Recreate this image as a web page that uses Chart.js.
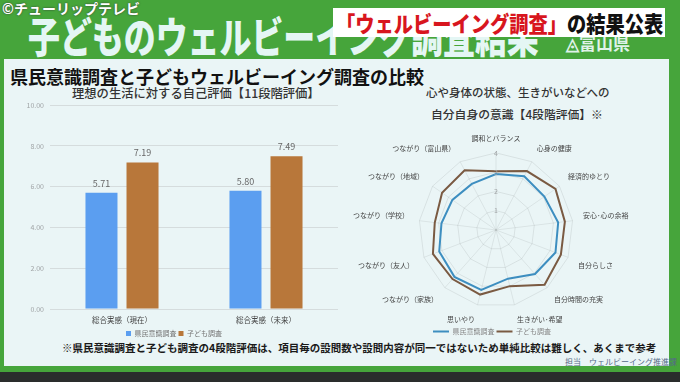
<!DOCTYPE html>
<html><head><meta charset="utf-8">
<script src="https://cdn.jsdelivr.net/npm/chart.js@4.4.1/dist/chart.umd.min.js"></script>
<style>
html,body{margin:0;padding:0;}
body{width:680px;height:382px;overflow:hidden;position:relative;background:#46a53b;font-family:"Noto Sans CJK JP","Noto Sans",sans-serif;}
.abs{position:absolute;white-space:nowrap;}
#slide{position:absolute;left:4px;top:59px;width:665px;height:307px;background:#eaf5f6;}
#bottom{position:absolute;left:0;top:372px;width:680px;height:10px;background:#2a2d2c;}
#htitle{left:28px;top:4px;font-size:42px;font-weight:900;color:#e4f6f4;transform:scaleX(0.76);transform-origin:left top;letter-spacing:0px;}
#copy{left:2px;top:-2px;font-size:14px;font-weight:700;color:#fff;text-shadow:0 0 2px #333;}
#logo{left:566px;top:30px;font-size:17px;font-weight:700;color:#dff2e8;}
#cap{left:333px;top:8px;width:332px;height:29px;background:#fff;}
#captext{left:336px;top:6px;font-size:22px;font-weight:900;transform:scaleX(0.875);transform-origin:left top;}
#captext .r{color:#d8161e;}#captext .k{color:#111;}
#stitle{left:10px;top:63px;font-size:18px;font-weight:700;color:#111;}
#btitle{left:72px;top:84px;font-size:12.3px;font-weight:500;color:#333;}
#rt1{left:426px;top:84px;font-size:11.5px;font-weight:500;color:#333;}
#rt2{left:431px;top:105px;font-size:11.8px;font-weight:500;color:#333;}
#foot{left:62px;top:340px;font-size:10.5px;font-weight:700;color:#1a1a1a;}
#tanto{left:565px;top:356px;font-size:8px;color:#556a88;}
#bar{position:absolute;left:10px;top:95px;}
#radar{position:absolute;left:345px;top:129px;}
</style></head>
<body>
<div id="slide"></div>
<div id="bottom"></div>
<div class="abs" id="htitle">子どものウェルビーイング調査結果</div>
<div class="abs" id="logo">◬富山県</div>
<div class="abs" id="copy">©チューリップテレビ</div>
<div class="abs" id="cap"></div>
<div class="abs" id="captext"><span class="r">「ウェルビーイング調査」</span><span class="k">の結果公表</span></div>
<div class="abs" id="stitle">県民意識調査と子どもウェルビーイング調査の比較</div>
<div class="abs" id="btitle">理想の生活に対する自己評価【11段階評価】</div>
<div class="abs" id="rt1">心や身体の状態、生きがいなどへの</div>
<div class="abs" id="rt2">自分自身の意識【4段階評価】※</div>
<div class="abs" id="foot">※県民意識調査と子ども調査の4段階評価は、項目毎の設問数や設問内容が同一ではないため単純比較は難しく、あくまで参考</div>
<div class="abs" id="tanto">担当　ウェルビーイング推進課</div>
<canvas id="bar" width="332" height="252"></canvas>
<canvas id="radar" width="298" height="216"></canvas>
<script>
const FONT = '"Noto Sans CJK JP","Noto Sans",sans-serif';
// bar chart data
const barCategories = ['総合実感（現在）', '総合実感（未来）'];
const barSeriesNames = ['県民意識調査', '子ども調査'];
const barKenmin = [5.71, 5.80];
const barKodomo = [7.19, 7.49];
const barYTicks = [0, 2, 4, 6, 8, 10];

// radar chart data
const radarCategories = ['調和とバランス', '心身の健康', '経済的ゆとり', '安心･心の余裕', '自分らしさ', '自分時間の充実', '生きがい･希望', '思いやり', 'つながり（家族）', 'つながり（友人）', 'つながり（学校）', 'つながり（地域）', 'つながり（富山県）'];
const radarKenmin = [2.9, 3.15, 3.05, 3.25, 3.3, 3.05, 2.6, 3.2, 3.25, 3.15, 2.85, 2.75, 2.7];
const radarKodomo = [3.05, 3.45, 3.75, 3.6, 3.6, 3.8, 3.0, 3.45, 3.4, 3.5, 3.2, 3.4, 3.5];
const radarTicks = [0, 1, 2, 3, 4];

const valueLabels = {
  id: 'valueLabels',
  afterDatasetsDraw(chart) {
    const ctx = chart.ctx;
    ctx.save();
    ctx.font = '9px ' + FONT;
    ctx.fillStyle = '#666';
    ctx.textAlign = 'center';
    ctx.textBaseline = 'bottom';
    chart.data.datasets.forEach((ds, i) => {
      chart.getDatasetMeta(i).data.forEach((el, j) => {
        ctx.fillText(ds.data[j].toFixed(2), el.x, el.y - 5);
      });
    });
    ctx.restore();
  }
};

new Chart(document.getElementById('bar'), {
  type: 'bar',
  data: {
    labels: barCategories,
    datasets: [
      {label: barSeriesNames[0], data: barKenmin, backgroundColor: '#5b9ef0', borderWidth: 0},
      {label: barSeriesNames[1], data: barKodomo, backgroundColor: '#b8773a', borderWidth: 0}
    ]
  },
  options: {
    responsive: false, animation: false,
    layout: {padding: {top: 7, right: 4, left: 0, bottom: 0}},
    datasets: {bar: {categoryPercentage: 0.57, barPercentage: 0.78}},
    plugins: {
      legend: {position: 'bottom', labels: {font: {size: 7, family: FONT}, color: '#777', boxWidth: 5, boxHeight: 5, padding: 2}},
      tooltip: {enabled: false}
    },
    scales: {
      x: {grid: {display: false, drawTicks: false}, border: {display: false},
          ticks: {font: {size: 7.5, family: FONT}, color: '#444', padding: 7},
          afterFit: s => { s.height = 19; }},
      y: {min: 0, max: 10,
          afterBuildTicks: s => { s.ticks = barYTicks.map(v => ({value: v})); },
          grid: {color: '#d5dcdd', drawTicks: false}, border: {display: false},
          ticks: {font: {size: 7, family: FONT}, color: '#a0a4a6', padding: 6, callback: v => Number(v).toFixed(2)},
          afterFit: s => { s.width = 40; }}
    }
  },
  plugins: [valueLabels]
});

const radarCanvas = document.getElementById('radar');
const radar = new Chart(radarCanvas, {
  type: 'radar',
  data: {
    labels: radarCategories,
    datasets: [
      {label: barSeriesNames[0], data: radarKenmin, borderColor: '#3d8ec0', backgroundColor: '#3d8ec0', borderWidth: 2, fill: false, pointRadius: 0},
      {label: barSeriesNames[1], data: radarKodomo, borderColor: '#7a5a42', backgroundColor: '#7a5a42', borderWidth: 2, fill: false, pointRadius: 0}
    ]
  },
  options: {
    responsive: false, maintainAspectRatio: false, animation: false,
    plugins: {
      legend: {position: 'bottom', labels: {font: {size: 7, family: FONT}, color: '#888', usePointStyle: true, pointStyle: 'line', pointStyleWidth: 16, boxHeight: 7, padding: 2}},
      tooltip: {enabled: false}
    },
    scales: {
      r: {min: 0, max: 4,
          afterBuildTicks: s => { s.ticks = radarTicks.map(v => ({value: v})); },
          ticks: {font: {size: 7, family: FONT}, color: '#a0a4a6', showLabelBackdrop: false, z: 1},
          grid: {color: 'rgba(0,0,0,0.08)'},
          angleLines: {color: 'rgba(0,0,0,0.07)'},
          pointLabels: {font: {size: 7, family: FONT}, color: '#444', padding: 5}}
    }
  }
});
// layout: size the radar canvas so the outer ring has the target radius, then place its centre
(function fitRadar(){
  const target = 77, cx = 496, cy = 230;
  let w = 298, h = 216;
  for (let k = 0; k < 25; k++) {
    const d = radar.scales.r.drawingArea;
    if (Math.abs(d - target) < 0.25) break;
    w = Math.round(w + (target - d) * 2);
    h = Math.round(h + (target - d) * 2);
    radar.resize(w, h);
  }
  const s = radar.scales.r;
  radarCanvas.style.left = Math.round(cx - s.xCenter) + 'px';
  radarCanvas.style.top = Math.round(cy - s.yCenter) + 'px';
})();
</script>
</body></html>
